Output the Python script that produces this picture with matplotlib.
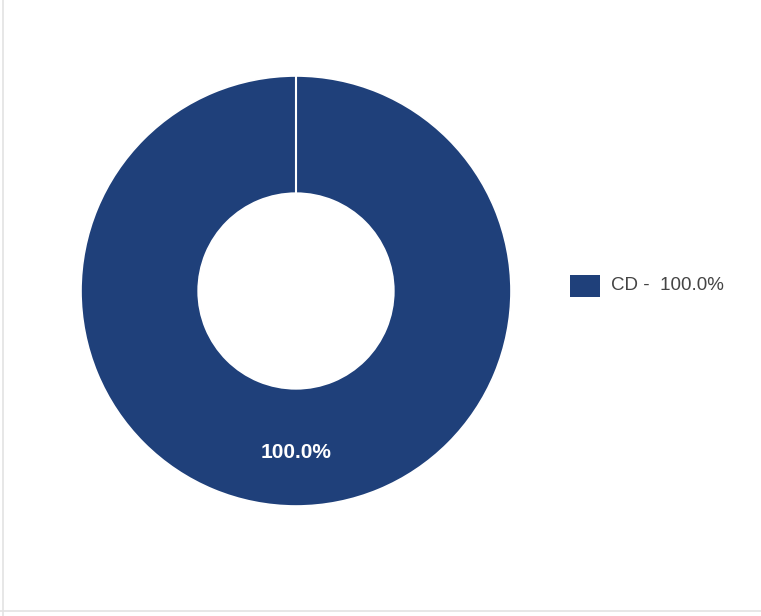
import numpy as np
import matplotlib
matplotlib.use("Agg")
import matplotlib.pyplot as plt
from matplotlib.patches import Rectangle
from matplotlib.lines import Line2D

plt.rcParams['font.family'] = ['Liberation Sans', 'DejaVu Sans']

# Datos
labels = ['CD']
values = [100.0]
colors = ['#1f407a']

W, H = 761, 616
fig = plt.figure(figsize=(W / 100, H / 100), dpi=100)

# Donut: centro (296, 291) px, radio ~215 px
cx, cy, r = 296, 291, 215
ring = 0.545
start = 90
ax = fig.add_axes([(cx - r) / W, (H - cy - r) / H, 2 * r / W, 2 * r / H])
wedges, texts, autotexts = ax.pie(
    values, colors=colors, startangle=start, counterclock=False,
    autopct='%1.1f%%', pctdistance=0.75, radius=1,
    wedgeprops=dict(width=ring, edgecolor='white', linewidth=1.2),
)
for t in autotexts:
    t.set_color('white')
    t.set_fontweight('bold')
    t.set_fontsize(15)

# borde radial de la porción (el anillo completo no lo dibuja)
a = np.deg2rad(start)
ax.plot([(1 - ring) * np.cos(a), np.cos(a)], [(1 - ring) * np.sin(a), np.sin(a)],
        color='white', linewidth=1.5, solid_capstyle='butt')

ax.set_xlim(-1, 1)
ax.set_ylim(-1, 1)
ax.set_aspect('equal')
ax.axis('off')

# Leyenda
total = sum(values)
for i, (lab, val) in enumerate(zip(labels, values)):
    y0 = 286 + i * 30
    fig.patches.append(Rectangle((570 / W, 1 - (y0 + 11) / H), 30 / W, 22 / H,
                                 transform=fig.transFigure, facecolor=colors[i],
                                 edgecolor='none'))
    fig.text(611 / W, 1 - y0 / H, f'{lab} -  {val / total * 100:.1f}%',
             ha='left', va='center', fontsize=13.5, color='#444444')

# Borde
fig.lines.append(Line2D([3 / W, 3 / W], [0, 1], transform=fig.transFigure,
                        color='#e3e3e3', linewidth=1.2))
fig.lines.append(Line2D([0, 1], [1 - 611 / H, 1 - 611 / H], transform=fig.transFigure,
                        color='#e3e3e3', linewidth=1.2))

fig.savefig('out.png', dpi=100, facecolor='white')
